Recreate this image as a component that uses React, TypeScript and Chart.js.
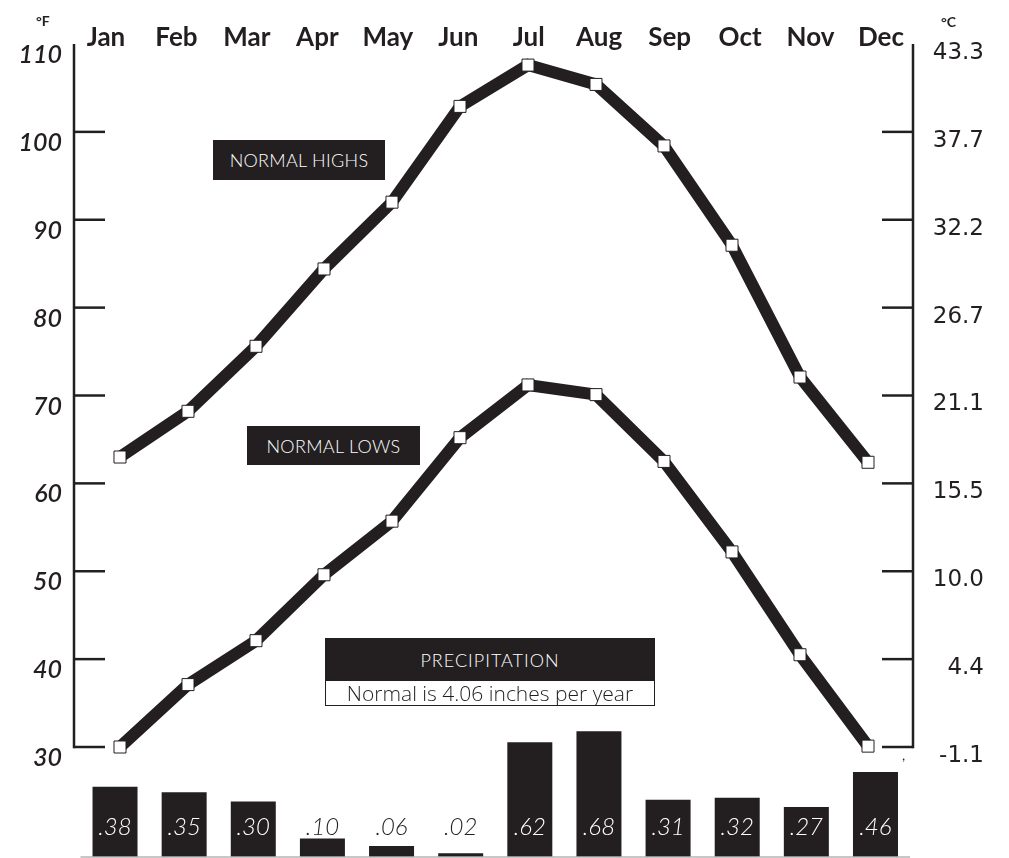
import React, { useEffect, useRef } from "react";
import { Chart, registerables } from "chart.js";

Chart.register(...registerables);

const months = ["Jan", "Feb", "Mar", "Apr", "May", "Jun", "Jul", "Aug", "Sep", "Oct", "Nov", "Dec"];
const normalHighs = [63.0, 68.2, 75.6, 84.4, 92.0, 102.9, 107.6, 105.4, 98.4, 87.1, 72.1, 62.4];
const normalLows = [30.0, 37.1, 42.1, 49.6, 55.7, 65.2, 71.2, 70.1, 62.5, 52.2, 40.5, 30.1];
const precipitation = [0.38, 0.35, 0.3, 0.1, 0.06, 0.02, 0.62, 0.68, 0.31, 0.32, 0.27, 0.46];
const precipLabels = [".38", ".35", ".30", ".10", ".06", ".02", ".62", ".68", ".31", ".32", ".27", ".46"];
const fahrenheitTicks = [30, 40, 50, 60, 70, 80, 90, 100, 110];
const celsiusLabels = ["-1.1", "4.4", "10.0", "15.5", "21.1", "26.7", "32.2", "37.7", "43.3"];

const INK = "#231f20";

// layout targets (pixels) used to calibrate the scales to the page
const F_TOP_PX = 44; // where 110 °F sits
const F_BOTTOM_PX = 747; // where 30 °F sits
const BAR_BASE_PX = 857;
const PX_PER_INCH = 185;

const axisPlugin = {
  id: "handAxes",
  afterDatasetsDraw(chart: any) {
    const { ctx, chartArea } = chart;
    const y = chart.scales.y;
    const top = y.getPixelForValue(110);
    const bottom = y.getPixelForValue(30);
    ctx.save();
    ctx.strokeStyle = INK;
    ctx.lineWidth = 2.5;
    ctx.lineCap = "butt";
    ctx.beginPath();
    ctx.moveTo(chartArea.left, top);
    ctx.lineTo(chartArea.left, bottom + 1.25);
    ctx.stroke();
    ctx.beginPath();
    ctx.moveTo(chartArea.right, top);
    ctx.lineTo(chartArea.right, bottom + 1.25);
    ctx.stroke();
    fahrenheitTicks.forEach((v) => {
      if (v === 110) return;
      const py = y.getPixelForValue(v);
      ctx.beginPath();
      ctx.moveTo(chartArea.left, py);
      ctx.lineTo(chartArea.left + 31, py);
      ctx.stroke();
      ctx.beginPath();
      ctx.moveTo(chartArea.right - 31, py);
      ctx.lineTo(chartArea.right, py);
      ctx.stroke();
    });
    const xb = chart.scales.xBar;
    const yb = chart.scales.yBar;
    const base = yb.getPixelForValue(0);
    ctx.strokeStyle = "#b5b5b5";
    ctx.lineWidth = 1.5;
    ctx.beginPath();
    ctx.moveTo(xb.getPixelForValue(-0.5), base);
    ctx.lineTo(xb.getPixelForValue(11.5), base);
    ctx.stroke();
    const meta = chart.getDatasetMeta(0);
    const labelY = base - 30;
    ctx.font = "italic 300 24px Lato, 'Open Sans', sans-serif";
    ctx.textAlign = "center";
    ctx.textBaseline = "middle";
    meta.data.forEach((bar: any, i: number) => {
      const inside = bar.y < labelY - 12;
      ctx.fillStyle = inside ? "#ffffff" : INK;
      ctx.fillText(precipLabels[i], bar.x, labelY);
    });
    ctx.restore();
  },
};

const noPad = (s: any) => {
  s.paddingTop = 0;
  s.paddingBottom = 0;
  s.paddingLeft = 0;
  s.paddingRight = 0;
};

export default function App() {
  const canvasRef = useRef<HTMLCanvasElement | null>(null);

  useEffect(() => {
    if (!canvasRef.current) return;
    const lineStyle = {
      xAxisID: "xLine",
      yAxisID: "y",
      borderColor: INK,
      borderWidth: 12,
      tension: 0,
      pointStyle: "rect",
      pointRadius: 8.5,
      pointBackgroundColor: "#ffffff",
      pointBorderColor: INK,
      pointBorderWidth: 1,
      clip: false,
    };
    const chart = new Chart(canvasRef.current, {
      type: "line",
      data: {
        datasets: [
          {
            type: "bar",
            label: "Precipitation",
            data: precipitation.map((v, i) => ({ x: i, y: v })),
            xAxisID: "xBar",
            yAxisID: "yBar",
            backgroundColor: INK,
            borderWidth: 0,
            grouped: false,
            categoryPercentage: 1,
            barPercentage: 0.651,
            clip: false,
          } as any,
          { label: "Normal Highs", data: normalHighs.map((v, i) => ({ x: i, y: v })), ...lineStyle } as any,
          { label: "Normal Lows", data: normalLows.map((v, i) => ({ x: i, y: v })), ...lineStyle } as any,
        ],
      },
      options: {
        animation: false,
        responsive: false,
        layout: { padding: { left: 0, right: 25, top: 0, bottom: 1 } },
        plugins: { legend: { display: false }, tooltip: { enabled: false } },
        scales: {
          xLine: { type: "linear", display: false, offset: false, min: -0.676, max: 11.66 },
          xBar: { type: "linear", display: false, offset: false, min: -0.593, max: 11.543 },
          xTop: {
            type: "linear",
            position: "top",
            offset: false,
            min: -0.454,
            max: 11.454,
            afterBuildTicks: (s: any) => {
              s.ticks = months.map((_, i) => ({ value: i }));
            },
            afterFit: (s: any) => {
              s.height = 58;
              noPad(s);
            },
            grid: { display: false, drawTicks: false },
            border: { display: false },
            ticks: {
              autoSkip: false,
              maxRotation: 0,
              padding: 5,
              color: INK,
              font: { family: "Lato, 'Noto Sans', sans-serif", size: 26, weight: "bold" },
              callback: (v: any) => months[v],
            },
          },
          y: {
            type: "linear",
            position: "left",
            min: 17.48,
            max: 108.4,
            afterBuildTicks: (s: any) => {
              s.ticks = fahrenheitTicks.map((v) => ({ value: v }));
            },
            afterFit: (s: any) => {
              s.width = 74;
              noPad(s);
            },
            grid: { display: false, drawTicks: false },
            border: { display: false },
            ticks: {
              autoSkip: false,
              padding: 12,
              labelOffset: 11,
              color: INK,
              font: { family: "Lato, 'Noto Sans', sans-serif", size: 25, style: "italic", weight: "600" },
              callback: (v: any) => String(v),
            },
          },
          y2: {
            type: "linear",
            position: "right",
            min: 17.48,
            max: 108.4,
            afterBuildTicks: (s: any) => {
              s.ticks = fahrenheitTicks.map((v) => ({ value: v }));
            },
            afterFit: (s: any) => {
              s.width = 71;
              noPad(s);
            },
            grid: { display: false, drawTicks: false },
            border: { display: false },
            ticks: {
              autoSkip: false,
              crossAlign: "far",
              padding: 10,
              labelOffset: 9,
              color: INK,
              font: { family: "'DejaVu Sans', sans-serif", size: 23, weight: "normal" },
              callback: (_v: any, i: number) => celsiusLabels[i],
            },
          },
          yBar: { type: "linear", display: false, min: 0, max: 4.319 },
        },
      } as any,
      plugins: [axisPlugin],
    });

    // calibrate scale ranges against the laid-out chart area
    const area = chart.chartArea;
    const pxPerF = (F_BOTTOM_PX - F_TOP_PX) / 80;
    const fMax = 110 - (area.top - F_TOP_PX) / pxPerF;
    const fMin = 30 - (area.bottom - F_BOTTOM_PX) / pxPerF;
    const sc: any = chart.options.scales;
    sc.y.min = fMin;
    sc.y.max = fMax;
    sc.y2.min = fMin;
    sc.y2.max = fMax;
    sc.yBar.min = (BAR_BASE_PX - area.bottom) / PX_PER_INCH;
    sc.yBar.max = (BAR_BASE_PX - area.top) / PX_PER_INCH;
    const lineStep = 68;
    sc.xLine.min = -(120 - area.left) / lineStep;
    sc.xLine.max = 11 + (area.right - 868) / lineStep;
    const barStep = 69.1;
    sc.xBar.min = -(115 - area.left) / barStep;
    sc.xBar.max = 11 + (area.right - 875.5) / barStep;
    const topStep = 70.45;
    sc.xTop.min = -(106 - area.left) / topStep;
    sc.xTop.max = 11 + (area.right - 881) / topStep;
    chart.update();

    return () => chart.destroy();
  }, []);

  const boxText: React.CSSProperties = {
    position: "absolute",
    background: INK,
    color: "#ffffff",
    fontFamily: "Lato, 'Open Sans', sans-serif",
    fontWeight: 300,
    fontSize: 18,
    display: "flex",
    alignItems: "center",
    justifyContent: "center",
    letterSpacing: 0.3,
    boxSizing: "border-box",
  };
  const small: React.CSSProperties = {
    position: "absolute",
    fontFamily: "Lato, 'Noto Sans', sans-serif",
    fontWeight: 700,
    fontSize: 14,
    color: INK,
    lineHeight: "14px",
  };

  return (
    <div style={{ position: "absolute", left: 0, top: 0, width: 1009, height: 858, background: "#ffffff", overflow: "hidden" }}>
      <canvas ref={canvasRef} width={1009} height={858} style={{ position: "absolute", left: 0, top: 0 }} />
      <div style={{ ...small, left: 36, top: 14 }}>°F</div>
      <div style={{ ...small, left: 941, top: 15 }}>°C</div>
      <div style={{ ...small, left: 902, top: 748, fontWeight: 400 }}>,</div>
      <div style={{ ...boxText, left: 213, top: 140, width: 172, height: 40 }}>NORMAL HIGHS</div>
      <div style={{ ...boxText, left: 247, top: 426, width: 173, height: 39 }}>NORMAL LOWS</div>
      <div style={{ ...boxText, left: 325, top: 638, width: 330, height: 43, letterSpacing: 1 }}>PRECIPITATION</div>
      <div
        style={{
          ...boxText,
          left: 325,
          top: 680,
          width: 330,
          height: 26,
          background: "#ffffff",
          color: INK,
          border: `1px solid ${INK}`,
          fontFamily: "'Open Sans', Lato, sans-serif",
          fontSize: 21,
          fontWeight: 300,
          letterSpacing: 0,
        }}
      >
        Normal is 4.06 inches per year
      </div>
    </div>
  );
}
